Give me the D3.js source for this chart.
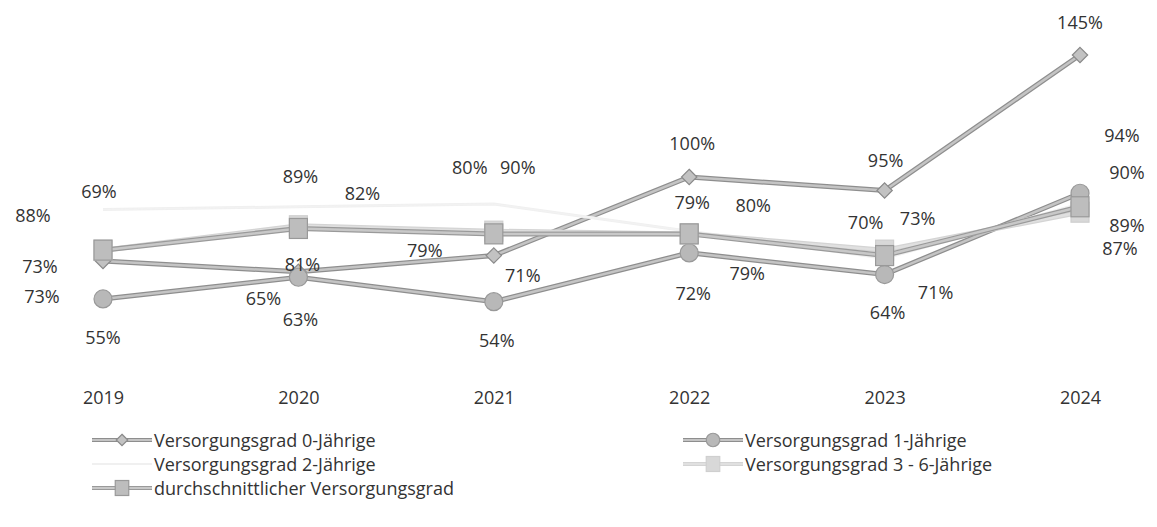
<!DOCTYPE html>
<html>
<head>
    <meta charset="utf-8">
    <title>Versorgungsgrad</title>
    <script src="https://d3js.org/d3.v7.min.js"></script>
    <style>
        body { margin: 0; background: #fff; }
        text { font-family: "Open Sans", "Noto Sans", sans-serif; fill: #333; }
    </style>
</head>
<body>
    <div id="chart"></div>

    <script>
        const years = ["2019", "2020", "2021", "2022", "2023", "2024"];
        const grad0 = [69, 65, 71, 100, 95, 145];
        const grad1 = [55, 63, 54, 72, 64, 94];
        const grad2 = [88, 89, 90, 80, 70, 90];
        const grad36 = [73, 82, 80, 79, 73, 87];
        const gradAvg = [73, 81, 79, 79, 71, 89];
        const names = ["Versorgungsgrad 0-Jährige", "Versorgungsgrad 1-Jährige", "Versorgungsgrad 2-Jährige",
                       "Versorgungsgrad 3 - 6-Jährige", "durchschnittlicher Versorgungsgrad"];

        // label offsets (dx, dy) per point, to follow the original's placement
        const offsets = [
            [[-4, -70], [-35, 26], [29, 19], [3, -34], [1, -31], [0, -33]],
            [[0, 38], [2, 42], [3, 38], [4, 40], [3, 37], [42, -58]],
            [[-70, 6], [2, -31], [24, -37], [64, -26], [-19, -36], [47, -32]],
            [[-61, 46], [64, -33], [-24, -64], [3, -32], [33, -32], [40, 36]],
            [[-63, 16], [4, 36], [-69, 16], [58, 39], [51, 36], [47, 18]]
        ];

        const styles = [
            {outer: "#8e8e8e", inner: "#c4c4c4", w: 5, marker: "diamond", fill: "#c2c2c2", stroke: "#8a8a8a"},
            {outer: "#8e8e8e", inner: "#c4c4c4", w: 5, marker: "circle", fill: "#b8b8b8", stroke: "#999"},
            {outer: "#f0f0f0", inner: "#f4f4f4", w: 3, marker: null},
            {outer: "#d4d4d4", inner: "#e0e0e0", w: 5, marker: "square", fill: "#d8d8d8", stroke: "#cfcfcf"},
            {outer: "#9a9a9a", inner: "#c8c8c8", w: 5, marker: "square", fill: "#bdbdbd", stroke: "#999"}
        ];

        const series = [grad0, grad1, grad2, grad36, gradAvg];

        const svg = d3.select("#chart").append("svg")
            .attr("width", 1157)
            .attr("height", 527);

        const x = d3.scalePoint()
            .domain(years)
            .range([103, 1080]);

        const y = d3.scaleLinear()
            .domain([0, 145])
            .range([448, 55]);

        const line = d3.line()
            .x((d, i) => x(years[i]))
            .y(d => y(d));

        function drawMarker(g, type, st, cx, cy, k) {
            if (type === "diamond") {
                g.append("path")
                    .attr("d", d3.symbol(d3.symbolDiamond2, 150 * k * k)())
                    .attr("transform", "translate(" + cx + "," + cy + ")")
                    .attr("fill", st.fill).attr("stroke", st.stroke).attr("stroke-width", 1.2);
            } else if (type === "circle") {
                g.append("circle")
                    .attr("cx", cx).attr("cy", cy).attr("r", 9 * k)
                    .attr("fill", st.fill).attr("stroke", st.stroke).attr("stroke-width", 1.2);
            } else if (type === "square") {
                g.append("rect")
                    .attr("x", cx - 9 * k).attr("y", cy - 10 * k).attr("width", 18 * k).attr("height", 20 * k)
                    .attr("fill", st.fill).attr("stroke", st.stroke).attr("stroke-width", 1.2);
            }
        }

        series.forEach((vals, s) => {
            const st = styles[s];
            const g = svg.append("g");
            g.append("path").datum(vals)
                .attr("d", line).attr("fill", "none")
                .attr("stroke", st.outer).attr("stroke-width", st.w);
            g.append("path").datum(vals)
                .attr("d", line).attr("fill", "none")
                .attr("stroke", st.inner).attr("stroke-width", st.w - 2.5);
            if (st.marker) {
                vals.forEach((v, i) => drawMarker(g, st.marker, st, x(years[i]), y(v), 1));
            }
        });

        // data labels
        series.forEach((vals, s) => {
            svg.append("g").selectAll("text")
                .data(vals)
                .enter().append("text")
                .attr("x", (d, i) => x(years[i]) + offsets[s][i][0])
                .attr("y", (d, i) => y(d) + offsets[s][i][1])
                .attr("text-anchor", "middle")
                .attr("dominant-baseline", "central")
                .style("font-size", "18px")
                .text(d => d + "%");
        });

        // x axis labels, no axis line
        const xAxis = svg.append("g")
            .attr("transform", "translate(0,391)")
            .call(d3.axisBottom(x).tickSize(0).tickPadding(0));
        xAxis.select(".domain").remove();
        xAxis.selectAll("text")
            .style("font-size", "18px")
            .style("font-family", "'Open Sans', sans-serif")
            .attr("fill", "#333");

        // legend
        const legendPos = [[92, 440], [683, 440], [92, 464], [683, 464], [92, 488]];
        names.forEach((n, s) => {
            const st = styles[s];
            const g = svg.append("g");
            const [lx, ly] = legendPos[s];
            g.append("line")
                .attr("x1", lx).attr("x2", lx + 60).attr("y1", ly).attr("y2", ly)
                .attr("stroke", st.outer).attr("stroke-width", st.w - 1);
            g.append("line")
                .attr("x1", lx).attr("x2", lx + 60).attr("y1", ly).attr("y2", ly)
                .attr("stroke", st.inner).attr("stroke-width", st.w - 3);
            if (st.marker) drawMarker(g, st.marker, st, lx + 30, ly, 0.75);
            g.append("text")
                .attr("x", lx + 62).attr("y", ly)
                .attr("dominant-baseline", "central")
                .style("font-size", "18px")
                .text(n);
        });
    </script>
</body>
</html>
